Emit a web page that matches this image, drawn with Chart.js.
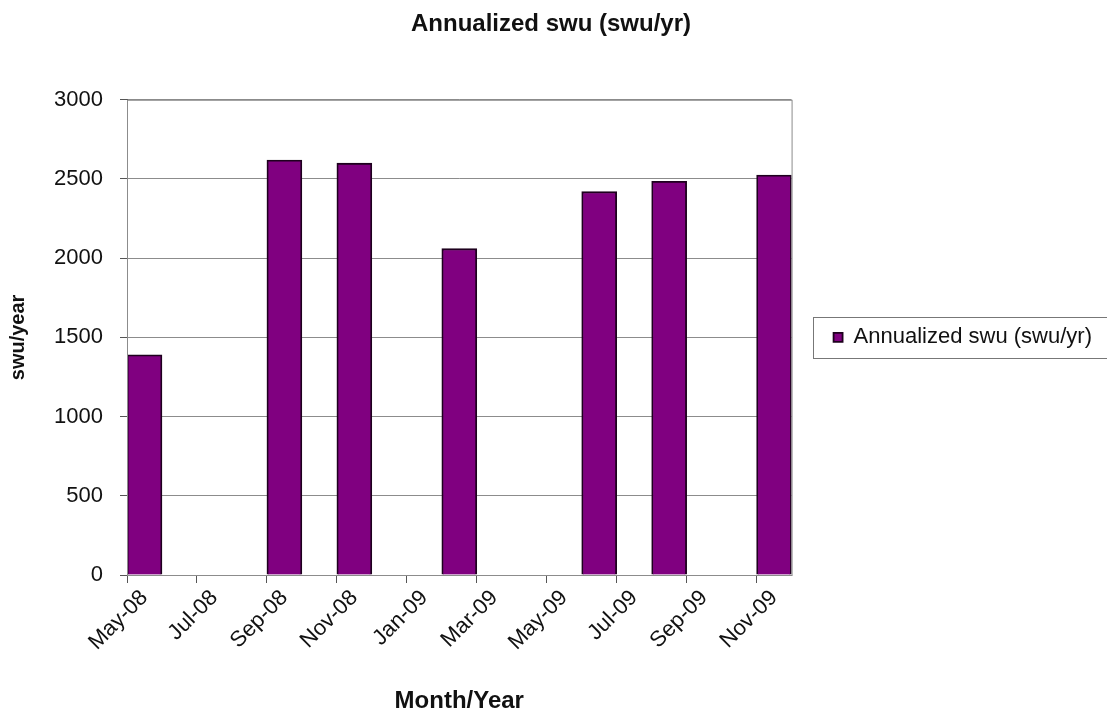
<!DOCTYPE html>
<html>
<head>
<meta charset="utf-8">
<script src="https://cdn.jsdelivr.net/npm/chart.js@4.4.1/dist/chart.umd.min.js"></script>
<style>
  body { margin: 0; background: #fff; }
  #wrap { width: 1107px; height: 717px; }
</style>
</head>
<body>
<div id="wrap"><canvas id="swuChart"></canvas></div>
<script>
// one slot per month, labels shown every second month
var months = ["May-08", "Jun-08", "Jul-08", "Aug-08", "Sep-08", "Oct-08", "Nov-08", "Dec-08",
              "Jan-09", "Feb-09", "Mar-09", "Apr-09", "May-09", "Jun-09", "Jul-09", "Aug-09",
              "Sep-09", "Oct-09", "Nov-09"];
var swuPerYear = [1390, null, null, null, 2620, null, 2600, null,
                  null, 2060, null, null, null, 2420, null, 2485,
                  null, null, 2525];
var yTicks = [0, 500, 1000, 1500, 2000, 2500, 3000];

Chart.defaults.font.family = "'Liberation Sans', Arial, sans-serif";
Chart.defaults.color = "#111";

// grey frame round the plot and a box round the legend
var frames = {
    id: 'frames',
    afterDraw: function(chart) {
        var ctx = chart.ctx, a = chart.chartArea;
        ctx.save();
        ctx.strokeStyle = '#8c8c8c';
        ctx.lineWidth = 1;
        ctx.strokeRect(a.left + 0.5, a.top + 0.5, a.right - a.left, a.bottom - a.top);
        var hb = chart.legend.legendHitBoxes[0];
        if (hb) {
            ctx.strokeStyle = '#777';
            ctx.strokeRect(Math.round(hb.left - 21) + 0.5, Math.round(hb.top - 9) + 0.5, 400, Math.round(hb.height + 19));
        }
        ctx.restore();
    }
};

new Chart(document.getElementById("swuChart"), {
    type: 'bar',
    data: {
        labels: months,
        datasets: [{
            label: "Annualized swu (swu/yr)",
            data: swuPerYear,
            backgroundColor: "#800080",
            borderColor: "#1e001e",
            borderWidth: 1.8,
            barPercentage: 1,
            categoryPercentage: 1
        }]
    },
    options: {
        responsive: true,
        maintainAspectRatio: false,
        animation: false,
        layout: { padding: { left: 0, right: 5, top: 0, bottom: 0 } },
        plugins: {
            title: {
                display: true,
                text: "Annualized swu (swu/yr)",
                color: "#111",
                font: { size: 24, weight: 'bold' },
                padding: { top: 10, bottom: 61 }
            },
            legend: {
                position: 'right',
                fullSize: false,
                maxWidth: 400,
                labels: {
                    boxWidth: 9,
                    boxHeight: 9,
                    padding: 42,
                    color: "#111",
                    font: { size: 22 }
                }
            },
            tooltip: { enabled: false }
        },
        scales: {
            x: {
                afterFit: function(axis) { axis.height = 142; },
                grid: {
                    offset: true,
                    drawOnChartArea: false,
                    tickLength: 8,
                    color: function(c) { return c.index % 2 === 0 ? '#555' : 'rgba(0,0,0,0)'; }
                },
                border: { color: '#666' },
                ticks: {
                    autoSkip: false,
                    minRotation: 45,
                    maxRotation: 45,
                    padding: 2,
                    font: { size: 22 },
                    callback: function(v, i) { return i % 2 === 0 ? months[i] : ''; }
                },
                title: {
                    display: true,
                    text: "Month/Year",
                    font: { size: 24, weight: 'bold' },
                    padding: { top: 2, bottom: 1 }
                }
            },
            y: {
                min: 0,
                max: 3000,
                afterFit: function(axis) { axis.width = 127; },
                afterBuildTicks: function(axis) {
                    axis.ticks = yTicks.map(function(v) { return { value: v }; });
                },
                grid: { color: '#8c8c8c', tickLength: 7, tickColor: '#555' },
                border: { color: '#555' },
                ticks: {
                    padding: 17,
                    font: { size: 22 },
                    callback: function(v) { return String(v); }
                },
                title: {
                    display: true,
                    text: "swu/year",
                    font: { size: 20, weight: 'bold' },
                    padding: { top: 6, bottom: 6 }
                }
            }
        }
    },
    plugins: [frames]
});
</script>
</body>
</html>
